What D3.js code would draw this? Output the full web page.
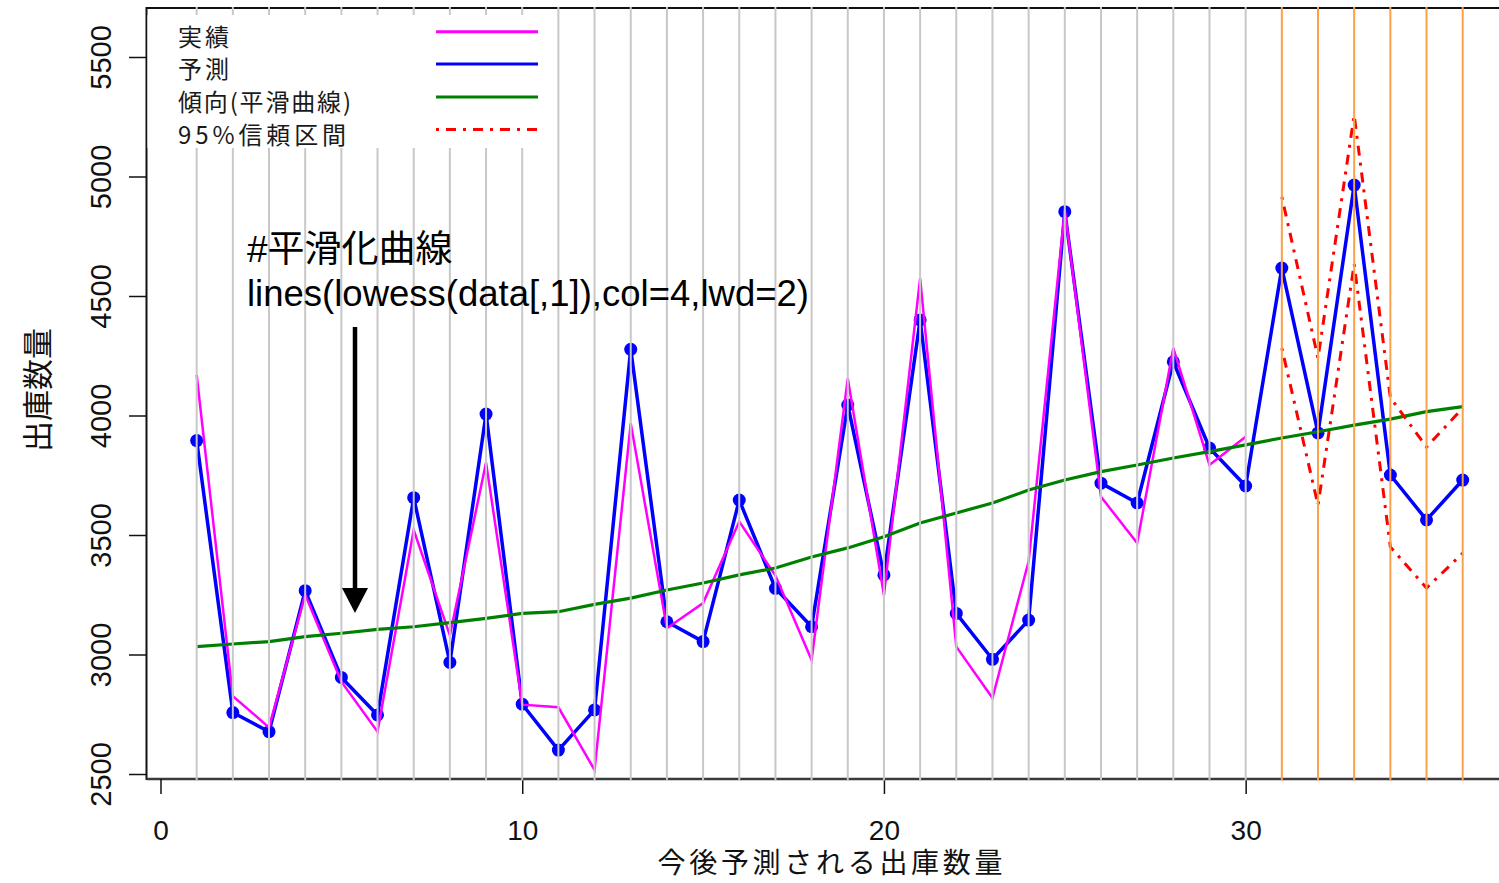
<!DOCTYPE html>
<html>
<head>
<meta charset="utf-8">
<script src="https://cdn.jsdelivr.net/npm/d3@7"></script>
<style>
  body { margin: 0; background: #fff; }
  svg { display: block; }
</style>
</head>
<body>
<div id="vis"></div>
<script>
const FRAME_WIDTH = 1499;
const FRAME_HEIGHT = 883;

// 実績 (x = 1..30)
const actualX = [1,2,3,4,5,6,7,8,9,10,11,12,13,14,15,16,17,18,19,20,21,22,23,24,25,26,27,28,29,30];
const actual = [4170,2826,2695,3250,2886,2677,3521,3080,3803,2790,2779,2517,3967,3110,3215,3556,3330,2977,4155,3249,4574,3033,2818,3390,4860,3660,3466,4282,3793,3911];

// 予測 (x = 1..36)
const forecastX = [1,2,3,4,5,6,7,8,9,10,11,12,13,14,15,16,17,18,19,20,21,22,23,24,25,26,27,28,29,30,31,32,33,34,35,36];
const forecast = [3895,2757,2677,3267,2904,2747,3656,2967,4006,2792,2600,2768,4277,3137,3054,3646,3277,3116,4044,3333,4400,3172,2980,3144,4853,3717,3634,4225,3864,3705,4617,3927,4964,3751,3563,3730];

// 傾向(平滑曲線)
const trend = [3033,3044,3054,3075,3089,3105,3116,3133,3151,3172,3179,3210,3236,3270,3299,3333,3362,3408,3446,3493,3550,3592,3634,3688,3730,3765,3793,3822,3849,3877,3906,3932,3960,3985,4016,4037];

// 95%信頼区間 (x = 31..36)
const ciX = [31,32,33,34,35,36];
const ciUpper = [4915,4240,5257,4075,3868,4031];
const ciLower = [4282,3625,4634,3450,3278,3424];

const xTicks = [0,10,20,30];
const yTicks = [2500,3000,3500,4000,4500,5000,5500];
const gridX = [1,2,3,4,5,6,7,8,9,10,11,12,13,14,15,16,17,18,19,20,21,22,23,24,25,26,27,28,29,30];
const forecastOnlyX = [31,32,33,34,35,36];

const legendLabels = ['実績','予測','傾向(平滑曲線)','95%信頼区間'];
const legendWidths = [51,51,173,168];

const PLOT = {left:146.5, top:8, bottom:779, right:1505};

const X_SCALE = d3.scaleLinear().domain([0,36]).range([160.5, 1462.7]);
const Y_SCALE = d3.scaleLinear().domain([2500,5500]).range([774, 57]);

const svg = d3.select('#vis')
  .append('svg')
    .attr('width', FRAME_WIDTH)
    .attr('height', FRAME_HEIGHT);

const LATIN = "'Liberation Sans', Arial, sans-serif";
const CJK = "'Noto Sans CJK JP', 'Noto Sans CJK SC', sans-serif";

// box
svg.append('line')
  .attr('x1', PLOT.left).attr('x2', PLOT.left)
  .attr('y1', PLOT.top - 1).attr('y2', PLOT.bottom + 1)
  .attr('stroke', '#111').attr('stroke-width', 2);
svg.append('line')
  .attr('x1', PLOT.left).attr('x2', PLOT.right)
  .attr('y1', PLOT.top).attr('y2', PLOT.top)
  .attr('stroke', '#111').attr('stroke-width', 2);
svg.append('line')
  .attr('x1', PLOT.left).attr('x2', PLOT.right)
  .attr('y1', PLOT.bottom).attr('y2', PLOT.bottom)
  .attr('stroke', '#3a3a3a').attr('stroke-width', 2.5);

// y axis
const yAxis = svg.append('g')
  .attr('transform', 'translate(' + PLOT.left + ',0)')
  .call(d3.axisLeft(Y_SCALE).tickValues(yTicks).tickSize(17.5).tickFormat(d3.format('d')));
yAxis.select('.domain').remove();
yAxis.selectAll('line').attr('stroke', '#111').attr('stroke-width', 1.5);
yAxis.selectAll('text')
  .attr('x', null).attr('dy', null)
  .attr('transform', 'translate(-36,0) rotate(-90)')
  .attr('text-anchor', 'middle')
  .attr('font-family', LATIN)
  .attr('font-size', '29px')
  .attr('fill', '#111');

// x axis
const xAxis = svg.append('g')
  .attr('transform', 'translate(0,' + PLOT.bottom + ')')
  .call(d3.axisBottom(X_SCALE).tickValues(xTicks).tickSize(15).tickFormat(d3.format('d')));
xAxis.select('.domain').remove();
xAxis.selectAll('line').attr('stroke', '#111').attr('stroke-width', 1.5);
xAxis.selectAll('text')
  .attr('y', 61).attr('dy', null)
  .attr('font-family', LATIN)
  .attr('font-size', '28px')
  .attr('fill', '#111');

// axis titles
svg.append('text')
  .attr('x', 830).attr('y', 873)
  .attr('text-anchor', 'middle')
  .attr('font-family', CJK).attr('font-size', '28px').attr('fill', '#111')
  .attr('textLength', 345).attr('lengthAdjust', 'spacing')
  .text('今後予測される出庫数量');
svg.append('text')
  .attr('transform', 'translate(35,390) rotate(-90)')
  .attr('dominant-baseline', 'central')
  .attr('text-anchor', 'middle')
  .attr('font-family', CJK).attr('font-size', '31px').attr('fill', '#111')
  .text('出庫数量');

// 予測 line + points
const lineF = d3.line().x((d, i) => X_SCALE(forecastX[i])).y(d => Y_SCALE(d));
svg.append('path')
  .datum(forecast)
  .attr('fill', 'none')
  .attr('stroke', '#0000ff')
  .attr('stroke-width', 3.5)
  .attr('stroke-linejoin', 'round')
  .attr('d', lineF);
svg.append('g')
  .selectAll('circle')
  .data(forecast)
  .enter()
  .append('circle')
    .attr('cx', (d, i) => X_SCALE(forecastX[i]))
    .attr('cy', d => Y_SCALE(d))
    .attr('r', 6.5)
    .attr('fill', '#0000ff');

// 実績 line
svg.append('path')
  .datum(actual)
  .attr('fill', 'none')
  .attr('stroke', '#ff00ff')
  .attr('stroke-width', 2.5)
  .attr('d', d3.line().x((d, i) => X_SCALE(actualX[i])).y(d => Y_SCALE(d)));

// 傾向 line
svg.append('path')
  .datum(trend)
  .attr('fill', 'none')
  .attr('stroke', '#008000')
  .attr('stroke-width', 3.2)
  .attr('d', lineF);

// 95% CI
const lineCI = d3.line().x((d, i) => X_SCALE(ciX[i])).y(d => Y_SCALE(d));
[ciUpper, ciLower].forEach(arr => {
  svg.append('path')
    .datum(arr)
    .attr('fill', 'none')
    .attr('stroke', '#ff0000')
    .attr('stroke-width', 3)
    .attr('stroke-dasharray', '3,7,10,7')
    .attr('d', lineCI);
});

// vertical reference lines
svg.append('g')
  .selectAll('line')
  .data(gridX)
  .enter()
  .append('line')
    .attr('x1', d => X_SCALE(d)).attr('x2', d => X_SCALE(d))
    .attr('y1', PLOT.top - 1).attr('y2', PLOT.bottom + 1.5)
    .attr('stroke', '#c8c8c8')
    .attr('stroke-width', 2);
svg.append('g')
  .selectAll('line')
  .data(forecastOnlyX)
  .enter()
  .append('line')
    .attr('x1', d => X_SCALE(d)).attr('x2', d => X_SCALE(d))
    .attr('y1', PLOT.top - 1).attr('y2', PLOT.bottom + 1.5)
    .attr('stroke', '#f9a24a')
    .attr('stroke-width', 2);

// legend
const legend = svg.append('g');
legend.append('rect')
  .attr('x', PLOT.left + 1).attr('y', 15)
  .attr('width', 401).attr('height', 133)
  .attr('fill', '#fff');
const legendColors = ['#ff00ff','#0000ff','#008000','#ff0000'];
const legendLineY = [31.7, 64, 97, 129.5];
legendLabels.forEach((lab, i) => {
  legend.append('line')
    .attr('x1', 436).attr('x2', 538)
    .attr('y1', legendLineY[i]).attr('y2', legendLineY[i])
    .attr('stroke', legendColors[i])
    .attr('stroke-width', 3)
    .attr('stroke-dasharray', i === 3 ? '3,7,10,7' : null);
  legend.append('text')
    .attr('x', 178).attr('y', legendLineY[i] + 3.5)
    .attr('dominant-baseline', 'central')
    .attr('font-family', CJK)
    .attr('font-size', '24px')
    .attr('fill', '#1a1a1a')
    .attr('textLength', legendWidths[i])
    .attr('lengthAdjust', 'spacing')
    .text(lab);
});

// annotation
svg.append('text')
  .attr('x', 247).attr('y', 262)
  .attr('font-family', "'Liberation Sans', 'Noto Sans CJK JP', sans-serif")
  .attr('font-size', '37px').attr('fill', '#000')
  .text('#平滑化曲線');
svg.append('text')
  .attr('x', 247).attr('y', 306)
  .attr('font-family', LATIN)
  .attr('font-size', '36.5px').attr('fill', '#000')
  .text('lines(lowess(data[,1]),col=4,lwd=2)');
svg.append('line')
  .attr('x1', 355).attr('x2', 355)
  .attr('y1', 327).attr('y2', 592)
  .attr('stroke', '#000').attr('stroke-width', 4.5);
svg.append('path')
  .attr('d', 'M342,588 L368,588 L355,613 Z')
  .attr('fill', '#000');
</script>
</body>
</html>
